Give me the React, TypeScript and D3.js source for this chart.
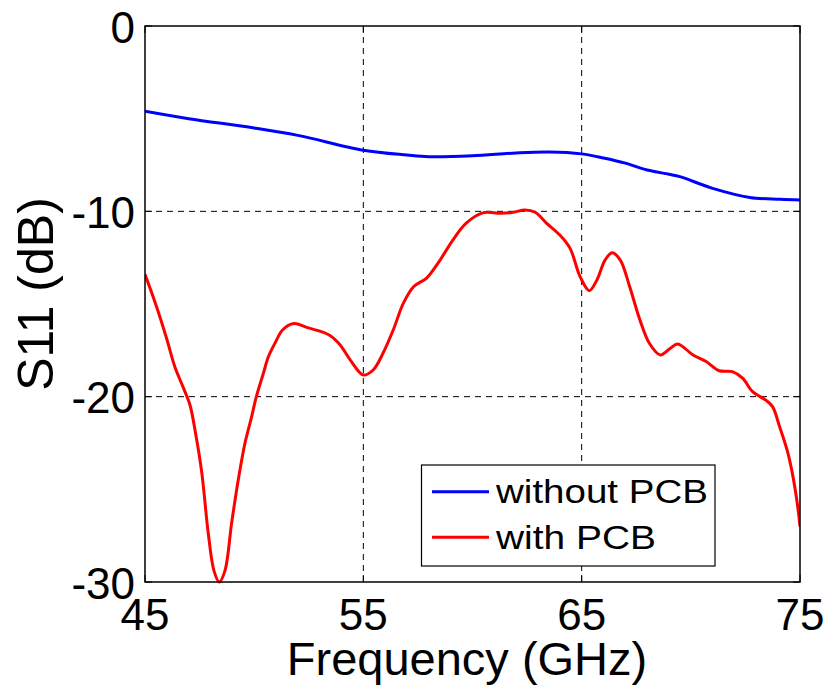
import React from "react";
import * as d3 from "d3";

const xTicks = [45, 55, 65, 75];
const yTicks = [0, -10, -20, -30];

const withoutFreq = [45, 47, 50, 52, 55, 57, 58, 60, 62, 63.5, 65, 66, 67, 68, 69, 69.5, 71, 72.7, 74.1, 75];
const withoutS11 = [-4.6, -5.0, -5.5, -5.9, -6.7, -6.96, -7.05, -7.0, -6.85, -6.8, -6.9, -7.12, -7.4, -7.77, -8.0, -8.13, -8.76, -9.25, -9.35, -9.39];

const withFreq = [45.0, 45.53, 46.0, 46.37, 46.75, 47.06, 47.29, 47.6, 47.9, 48.16, 48.4, 48.66, 48.97, 49.27, 49.58, 49.88, 50.1, 50.42, 50.65, 50.96, 51.3, 51.82, 52.4, 52.93, 53.47, 53.93, 54.39, 55.0, 55.45, 55.9, 56.37, 56.83, 57.3, 57.9, 58.42, 59.1, 59.7, 60.5, 61.26, 61.8, 62.4, 62.87, 63.4, 64.0, 64.47, 64.93, 65.35, 65.7, 66.07, 66.4, 66.77, 67.2, 67.67, 68.1, 68.6, 69.05, 69.4, 70.1, 70.7, 71.3, 71.9, 72.37, 72.83, 73.45, 73.75, 74.06, 74.45, 74.76, 75.0];
const withS11 = [-13.4, -15.15, -16.9, -18.4, -19.5, -20.45, -21.8, -24.1, -27.4, -29.4, -30.0, -29.4, -26.8, -24.5, -22.5, -21.1, -20.0, -18.75, -17.85, -17.1, -16.4, -16.05, -16.26, -16.44, -16.7, -17.2, -18.0, -18.83, -18.56, -17.66, -16.4, -14.97, -14.07, -13.6, -12.8, -11.55, -10.65, -10.07, -10.1, -10.07, -9.93, -10.05, -10.65, -11.28, -12.0, -13.53, -14.28, -13.7, -12.63, -12.23, -12.63, -14.07, -15.87, -17.12, -17.75, -17.4, -17.16, -17.75, -18.1, -18.6, -18.65, -19.0, -19.73, -20.2, -20.55, -21.6, -23.06, -24.86, -27.0];

const seriesNames = ["without PCB", "with PCB"];
const seriesColors = ["#0000ff", "#ff0000"];

export default function App() {
  const W = 831, H = 685;
  const L = 145, R = 800, T = 26, B = 582;
  const x = d3.scaleLinear().domain([45, 75]).range([L, R]);
  const y = d3.scaleLinear().domain([-30, 0]).range([B, T]);
  const line = d3.line<[number, number]>()
    .x(d => x(d[0])).y(d => y(d[1]))
    .curve(d3.curveCatmullRom.alpha(0.5));
  const blue = line(withoutFreq.map((f, i) => [f, withoutS11[i]] as [number, number]));
  const red = line(withFreq.map((f, i) => [f, withS11[i]] as [number, number]));
  const font = "Arial, 'Liberation Sans', sans-serif";
  const legendWidths = [212, 160];

  return (
    <svg width={W} height={H} style={{ position: "absolute", left: 0, top: 0, background: "#fff" }} fontFamily={font}>
      <defs>
        <clipPath id="plot"><rect x={L} y={T - 2} width={R - L} height={B - T + 4} /></clipPath>
      </defs>
      {xTicks.slice(1, -1).map(t => (
        <line key={"gx" + t} x1={x(t)} x2={x(t)} y1={T} y2={B} stroke="#000" strokeWidth={1} strokeDasharray="6,5" />
      ))}
      {yTicks.slice(1, -1).map(t => (
        <line key={"gy" + t} x1={L} x2={R} y1={y(t)} y2={y(t)} stroke="#000" strokeWidth={1} strokeDasharray="6,5" />
      ))}
      <g clipPath="url(#plot)">
        <path d={blue || ""} fill="none" stroke={seriesColors[0]} strokeWidth={3} />
        <path d={red || ""} fill="none" stroke={seriesColors[1]} strokeWidth={3} />
      </g>
      <rect x={L} y={T} width={R - L} height={B - T} fill="none" stroke="#000" strokeWidth={1.5} />
      {xTicks.map(t => (
        <g key={"tx" + t}>
          <line x1={x(t)} x2={x(t)} y1={B} y2={B - 7} stroke="#000" strokeWidth={1} />
          <line x1={x(t)} x2={x(t)} y1={T} y2={T + 7} stroke="#000" strokeWidth={1} />
          <text x={x(t)} y={630} fontSize={44} textAnchor="middle">{t}</text>
        </g>
      ))}
      {yTicks.map(t => (
        <g key={"ty" + t}>
          <line x1={L} x2={L + 7} y1={y(t)} y2={y(t)} stroke="#000" strokeWidth={1} />
          <line x1={R} x2={R - 7} y1={y(t)} y2={y(t)} stroke="#000" strokeWidth={1} />
          <text x={135} y={y(t) + 16.5} fontSize={44} textAnchor="end">{t}</text>
        </g>
      ))}
      <text x={467} y={675} fontSize={47} textAnchor="middle">Frequency (GHz)</text>
      <text transform={`translate(53,294) rotate(-90)`} fontSize={50} textAnchor="middle">S11 (dB)</text>
      <rect x={421.5} y={465} width={293.5} height={101} fill="#fff" stroke="#000" strokeWidth={1.2} />
      {seriesNames.map((n, i) => (
        <g key={n}>
          <line x1={432} x2={489} y1={491.7 + i * 45.5} y2={491.7 + i * 45.5} stroke={seriesColors[i]} strokeWidth={3} />
          <text x={496} y={503 + i * 45.5} fontSize={33} textLength={legendWidths[i]} lengthAdjust="spacingAndGlyphs">{n}</text>
        </g>
      ))}
    </svg>
  );
}
